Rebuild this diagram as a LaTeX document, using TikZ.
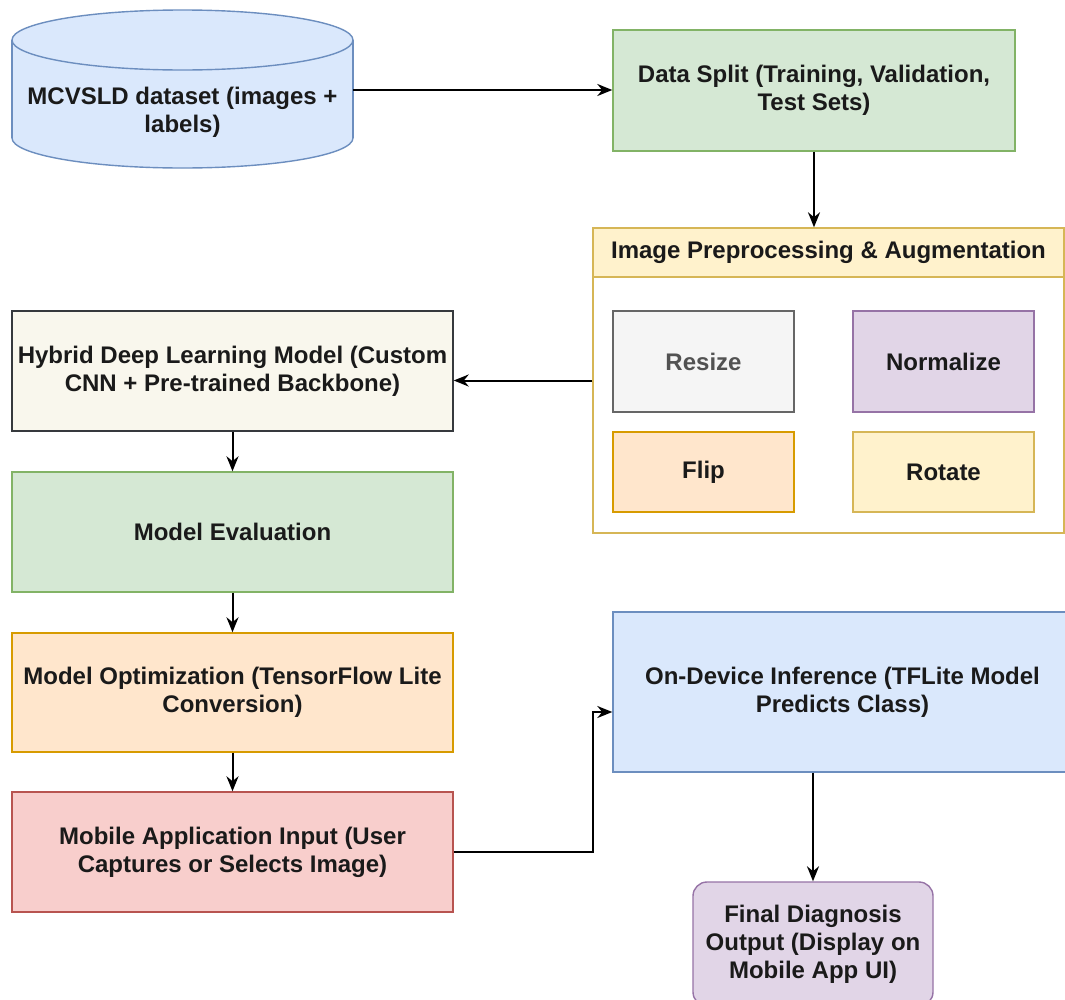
\documentclass[tikz,border=0pt]{standalone}
\usepackage{fontspec}
\setmainfont{Liberation Sans}
\usetikzlibrary{arrows.meta}

% draw.io palette
\definecolor{blueFill}{HTML}{DAE8FC}
\definecolor{blueLine}{HTML}{6C8EBF}
\definecolor{greenFill}{HTML}{D5E8D4}
\definecolor{greenLine}{HTML}{82B366}
\definecolor{yellowFill}{HTML}{FFF2CC}
\definecolor{yellowLine}{HTML}{D6B656}
\definecolor{orangeFill}{HTML}{FFE6CC}
\definecolor{orangeLine}{HTML}{D79B00}
\definecolor{redFill}{HTML}{F8CECC}
\definecolor{redLine}{HTML}{B85450}
\definecolor{purpleFill}{HTML}{E1D5E7}
\definecolor{purpleLine}{HTML}{9673A6}
\definecolor{greyFill}{HTML}{F5F5F5}
\definecolor{greyLine}{HTML}{666666}
\definecolor{creamFill}{HTML}{F9F7ED}
\definecolor{creamLine}{HTML}{36393D}
\definecolor{inkText}{HTML}{1A1A1A}

\begin{document}
\begin{tikzpicture}[x=1pt,y=-1pt,
    box/.style={draw, rectangle, line width=1.4pt, align=center, inner sep=0pt,
        text=inkText, font=\bfseries\fontsize{24}{28}\selectfont},
    link/.style={line width=2pt, -{Stealth[length=15pt,width=12pt]}}]

    % Fix the page to the size of the reference
    \useasboundingbox[fill=white] (0,0) rectangle (1065,999);

    % Dataset cylinder (drawn by hand, text set below the lid)
    \def\rx{170.5}
    \def\ry{30}
    \filldraw[fill=blueFill, draw=blueLine, line width=1.4pt] (182.5,138) ellipse ({\rx} and {\ry});
    \fill[blueFill] (12,40) rectangle (353,138);
    \draw[blueLine, line width=1.4pt] (12,40) -- (12,138);
    \draw[blueLine, line width=1.4pt] (353,40) -- (353,138);
    \filldraw[fill=blueFill, draw=blueLine, line width=1.4pt] (182.5,40) ellipse ({\rx} and {\ry});
    \node[inner sep=0pt, minimum width=341pt, minimum height=158pt] (data) at (182.5,90) {};
    \node[box, draw=none] (dataText) at (182.5,112) {MCVSLD dataset (images +\\labels)};

    % Data split
    \node[box, fill=greenFill, draw=greenLine, minimum width=402pt, minimum height=121pt]
        (split) at (814,90.5) {Data Split (Training, Validation,\\Test Sets)};

    % Preprocessing container with its header strip
    \node[box, fill=white, draw=yellowLine, minimum width=471pt, minimum height=305pt]
        (prep) at (828.5,380.5) {};
    \node[box, fill=yellowFill, draw=yellowLine, minimum width=471pt, minimum height=49pt,
        anchor=north] (prepHead) at (prep.north) {Image Preprocessing \& Augmentation};

    % The four augmentation steps
    \node[box, fill=greyFill, draw=greyLine, text=greyLine!80!black, minimum width=181pt,
        minimum height=101pt] (resize) at (703.5,361.5) {Resize};
    \node[box, fill=purpleFill, draw=purpleLine, minimum width=181pt, minimum height=101pt]
        (norm) at (943.5,361.5) {Normalize};
    \node[box, fill=orangeFill, draw=orangeLine, minimum width=181pt, minimum height=80pt]
        (flip) at (703.5,472) {Flip};
    \node[box, fill=yellowFill, draw=yellowLine, minimum width=181pt, minimum height=80pt]
        (rotate) at (943.5,472) {Rotate};

    % Left column
    \node[box, fill=creamFill, draw=creamLine, minimum width=441pt, minimum height=120pt]
        (hybrid) at (232.5,371) {Hybrid Deep Learning Model (Custom\\CNN + Pre-trained Backbone)};
    \node[box, fill=greenFill, draw=greenLine, minimum width=441pt, minimum height=120pt]
        (eval) at (232.5,532) {Model Evaluation};
    \node[box, fill=orangeFill, draw=orangeLine, minimum width=441pt, minimum height=119pt]
        (optim) at (232.5,692.5) {Model Optimization (TensorFlow Lite\\Conversion)};
    \node[box, fill=redFill, draw=redLine, minimum width=441pt, minimum height=120pt]
        (mobile) at (232.5,852) {Mobile Application Input (User\\Captures or Selects Image)};

    % Right column, bottom
    \node[box, fill=blueFill, draw=blueLine, minimum width=459pt, minimum height=160pt]
        (infer) at (842.5,692) {On-Device Inference (TFLite Model\\Predicts Class)};
    \node[box, fill=purpleFill, draw=purpleLine, rounded corners=14pt, minimum width=240pt,
        minimum height=124pt] (final) at (813,944) {Final Diagnosis\\Output (Display on\\Mobile App UI)};

    % Connectors
    \draw[link] (data.east) -- (data.east -| split.west);
    \draw[link] (split.south) -- (split.south |- prep.north);
    \draw[link] (prep.west) -- (prep.west -| hybrid.east);
    \draw[link] (hybrid.south) -- (eval.north);
    \draw[link] (eval.south) -- (optim.north);
    \draw[link] (optim.south) -- (mobile.north);
    \coordinate (bend) at (593,712);
    \draw[link] (mobile.east) -| (bend) -- (bend -| infer.west);
    \draw[link] (infer.south -| final.north) -- (final.north);

\end{tikzpicture}
\end{document}
